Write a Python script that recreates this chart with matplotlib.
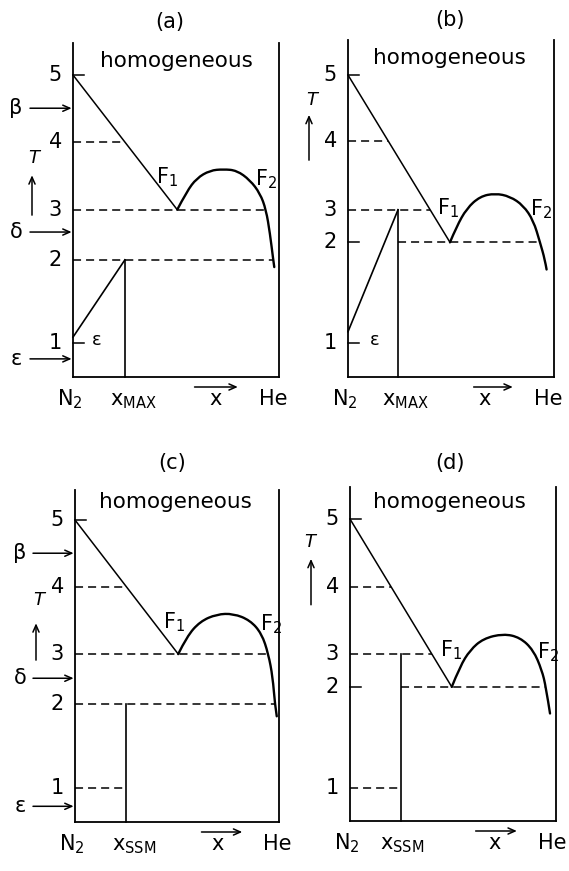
import numpy as np
import matplotlib
matplotlib.use("Agg")
import matplotlib.pyplot as plt
from matplotlib import transforms
from matplotlib.path import Path
from matplotlib.patches import PathPatch

plt.rcParams['font.family'] = ['DejaVu Sans']
plt.rcParams['mathtext.default'] = 'regular'
plt.rcParams['lines.scale_dashes'] = False

# ---------------- data (schematic T-x phase diagrams, N2-He) ----------------
panel_names = ['(a)', '(b)', '(c)', '(d)']
level_labels = ['1', '2', '3', '4', '5']

levels_a = [0.56, 1.94, 2.77, 3.89, 5.0]
levels_b = [0.57, 2.23, 2.77, 3.91, 5.0]
levels_c = [0.56, 1.95, 2.78, 3.89, 5.0]
levels_d = [0.55, 2.22, 2.76, 3.87, 5.0]

# fluid-fluid dome starting at F1 (first point) and ending past F2
dome_a_x = [0.506, 0.552, 0.600, 0.665, 0.730, 0.795, 0.859, 0.908, 0.937, 0.956, 0.972, 0.977]
dome_a_T = [2.77, 3.07, 3.29, 3.42, 3.44, 3.42, 3.26, 3.04, 2.77, 2.38, 1.94, 1.82]
dome_b_x = [0.495, 0.527, 0.576, 0.641, 0.714, 0.786, 0.851, 0.900, 0.932, 0.956, 0.964]
dome_b_T = [2.23, 2.49, 2.79, 2.99, 3.04, 2.99, 2.84, 2.59, 2.23, 1.94, 1.78]
dome_c_x = [0.506, 0.548, 0.613, 0.695, 0.776, 0.858, 0.915, 0.948, 0.969, 0.980, 0.989]
dome_c_T = [2.78, 3.07, 3.32, 3.44, 3.45, 3.34, 3.12, 2.78, 2.40, 1.95, 1.75]
dome_d_x = [0.494, 0.534, 0.583, 0.647, 0.744, 0.825, 0.890, 0.931, 0.951, 0.971]
dome_d_T = [2.22, 2.56, 2.83, 3.02, 3.10, 3.04, 2.83, 2.50, 2.22, 1.78]

# epsilon solid-solution boundary (panels a, b)
eps_a_x = [0.0, 0.252]
eps_a_T = [0.66, 1.94]
eps_b_x = [0.0, 0.243]
eps_b_T = [0.75, 2.77]

# composition marker line (x_MAX or x_SSM) and its top temperature
mark_x = [0.252, 0.243, 0.250, 0.248]
mark_top = [1.94, 2.77, 1.95, 2.76]
mark_labels = [r'x$_{\mathrm{MAX}}$', r'x$_{\mathrm{MAX}}$', r'x$_{\mathrm{SSM}}$', r'x$_{\mathrm{SSM}}$']

# solid-phase transition arrows on the left (panels a, c)
phase_names = ['β', 'δ', 'ε']
phase_T_a = [4.45, 2.40, 0.30]
phase_T_c = [4.45, 2.38, 0.26]

# dashed isotherms: (level index, start, end)
dashed_a = [(3, 'axis', 'diag'), (2, 'axis', 'dome'), (1, 'axis', 'dome')]
dashed_b = [(3, 'axis', 'diag'), (2, 'axis', 'diag'), (1, 'mark', 'dome')]
dashed_c = [(3, 'axis', 'diag'), (2, 'axis', 'dome'), (1, 'axis', 'dome'), (0, 'axis', 'mark')]
dashed_d = [(3, 'axis', 'diag'), (2, 'axis', 'diag'), (1, 'mark', 'dome'), (0, 'axis', 'mark')]
# short solid ticks on the T axis (level index)
ticks_a = [4, 0]
ticks_b = [4, 1, 0]
ticks_c = [4]
ticks_d = [4, 1]

panels = [
    dict(levels=levels_a, dome=(dome_a_x, dome_a_T), eps=(eps_a_x, eps_a_T), dashed=dashed_a,
         ticks=ticks_a, phases=phase_T_a),
    dict(levels=levels_b, dome=(dome_b_x, dome_b_T), eps=(eps_b_x, eps_b_T), dashed=dashed_b,
         ticks=ticks_b, phases=None),
    dict(levels=levels_c, dome=(dome_c_x, dome_c_T), eps=None, dashed=dashed_c,
         ticks=ticks_c, phases=phase_T_c),
    dict(levels=levels_d, dome=(dome_d_x, dome_d_T), eps=None, dashed=dashed_d,
         ticks=ticks_d, phases=None),
]

# ---------------- layout (pixels) ----------------
W, H = 569, 871
PX_PER_T = 60.4
boxes = [(73, 43, 279, 377), (348, 40, 554, 377), (75, 490, 279, 822), (350, 487, 556, 821)]
title_x = [0.47, 0.495, 0.475, 0.485]
title_dy = [21, 20, 27, 24]
homog = [(0.50, 5.13), (0.49, 5.18), (0.49, 5.20), (0.485, 5.18)]
F1_pos = [(0.405, 3.21), (0.432, 2.70), (0.431, 3.21), (0.437, 2.72)]
F2_pos = [(0.883, 3.18), (0.883, 2.68), (0.907, 3.18), (0.908, 2.70)]
eps_lab = [(0.116, 0.62), (0.13, 0.62), None, None]
T_lab = [(-39, 3.63), (-36, 4.59), (-36, 3.68), (-40, 4.62)]
T_arrow = [(-41, 2.68, 3.34), (-39, 3.59, 4.34), (-39, 2.68, 3.29), (-39, 3.58, 4.34)]
phase_arrow_start = [-43, None, -42, None]
phase_lab_dx = [-57, None, -55, None]
mark_lab_x = [0.18, 0.164, 0.18, 0.146]
x_lab_x = [0.69, 0.665, 0.70, 0.70]
x_arrow = [(0.59, 0.80), (0.61, 0.80), (0.62, 0.82), (0.61, 0.81)]
He_x = [0.97, 0.97, 0.99, 0.98]

FS = 15
fig = plt.figure(figsize=(W / 100, H / 100), dpi=100)
fig.patch.set_facecolor('white')
DASH = (0, (5.8, 3.6))
ARROW = '->,head_length=0.5,head_width=0.22'


def right_branch_x(xs, Ts, T):
    i = int(np.argmax(Ts))
    xr = np.array(xs[i:])[::-1]
    Tr = np.array(Ts[i:])[::-1]
    return float(np.interp(T, Tr, xr))


def smooth_path(xs, Ts):
    """Quadratic Bezier path through midpoints, using read points as controls."""
    pts = np.column_stack([xs, Ts])
    verts = [pts[0]]
    codes = [Path.MOVETO]
    n = len(pts)
    for i in range(1, n - 1):
        end = pts[n - 1] if i == n - 2 else (pts[i] + pts[i + 1]) / 2
        verts += [pts[i], end]
        codes += [Path.CURVE3, Path.CURVE3]
    return Path(verts, codes)


for k, p in enumerate(panels):
    l, t, r, b = boxes[k]
    ax = fig.add_axes([l / W, 1 - b / H, (r - l) / W, (b - t) / H])
    ax.set_xlim(0, 1)
    ax.set_ylim(0, (b - t) / PX_PER_T)
    ax.set_xticks([])
    ax.set_yticks([])
    ax.spines['top'].set_visible(False)
    for s in ['left', 'right', 'bottom']:
        ax.spines[s].set_linewidth(1.3)
    ax.patch.set_alpha(0)

    lev = p['levels']
    dx, dT = p['dome']
    xF1, TF1 = dx[0], dT[0]
    T5 = lev[4]

    def diag_x(T):
        return xF1 * (T5 - T) / (T5 - TF1)

    # liquidus line from pure N2 melting point to F1
    ax.plot([0, xF1], [T5, TF1], color='black', lw=1.1, clip_on=False)
    # dome
    ax.add_patch(PathPatch(smooth_path(dx, dT), fill=False, edgecolor='black', lw=1.7,
                           clip_on=False, capstyle='round', joinstyle='round'))
    # epsilon boundary
    if p['eps'] is not None:
        ex, eT = p['eps']
        ax.plot(ex, eT, color='black', lw=1.2, clip_on=False)
    # marker vertical line
    ax.plot([mark_x[k], mark_x[k]], [0, mark_top[k]], color='black', lw=1.2, clip_on=False)

    # dashed isotherms
    for (li, s0, s1) in p['dashed']:
        T = lev[li]
        x0 = mark_x[k] if s0 == 'mark' else 0.0
        if s1 == 'diag':
            x1 = diag_x(T)
        elif s1 == 'dome':
            x1 = right_branch_x(dx, dT, T)
        else:
            x1 = mark_x[k]
        ax.plot([x0, x1], [T, T], color='black', lw=1.1, linestyle=DASH, clip_on=False)
    # short ticks
    for li in p['ticks']:
        ax.plot([0, 0.055], [lev[li], lev[li]], color='black', lw=1.1, clip_on=False)

    # level labels
    for li, lab in enumerate(level_labels):
        ax.annotate(lab, xy=(0, lev[li]), xytext=(-11, 0), textcoords='offset pixels',
                    ha='right', va='center', fontsize=FS)

    # title
    ax.annotate(panel_names[k], xy=(title_x[k], 1), xycoords='axes fraction',
                xytext=(0, title_dy[k]), textcoords='offset pixels',
                ha='center', va='center', fontsize=FS)
    # homogeneous
    ax.text(homog[k][0], homog[k][1], 'homogeneous', ha='center', va='baseline', fontsize=15.5)
    # F1, F2
    ax.text(F1_pos[k][0], F1_pos[k][1], r'F$_1$', ha='left', va='baseline', fontsize=FS)
    ax.text(F2_pos[k][0], F2_pos[k][1], r'F$_2$', ha='left', va='baseline', fontsize=FS)
    if eps_lab[k] is not None:
        ax.text(eps_lab[k][0], eps_lab[k][1], 'ε', ha='center', va='center', fontsize=13)

    # T label and arrow
    ax.annotate('T', xy=(0, T_lab[k][1]), xytext=(T_lab[k][0], 0), textcoords='offset pixels',
                ha='center', va='center', fontsize=13, style='italic')
    off = transforms.ScaledTranslation(T_arrow[k][0] / 100, 0, fig.dpi_scale_trans)
    tr = ax.transData + off
    ax.annotate('', xy=(0, T_arrow[k][2]), xycoords=tr, xytext=(0, T_arrow[k][1]), textcoords=tr,
                arrowprops=dict(arrowstyle=ARROW, lw=1.1, color='black', shrinkA=0, shrinkB=0),
                annotation_clip=False)

    # solid phase arrows
    if p['phases'] is not None:
        for name, T in zip(phase_names, p['phases']):
            ax.annotate('', xy=(0, T), xytext=(phase_arrow_start[k], 0), textcoords='offset pixels',
                        arrowprops=dict(arrowstyle=ARROW, lw=1.1, color='black',
                                        shrinkA=0, shrinkB=1),
                        annotation_clip=False)
            ax.annotate(name, xy=(0, T), xytext=(phase_lab_dx[k], 0), textcoords='offset pixels',
                        ha='center', va='center', fontsize=FS)

    # bottom labels
    xtr = ax.get_xaxis_transform()
    ax.annotate(r'N$_2$', xy=(0.0, 0), xycoords=xtr, xytext=(-3, -28), textcoords='offset pixels',
                ha='center', va='baseline', fontsize=FS)
    ax.annotate(mark_labels[k], xy=(mark_lab_x[k], 0), xycoords=xtr, xytext=(0, -28),
                textcoords='offset pixels', ha='left', va='baseline', fontsize=FS)
    ax.annotate('x', xy=(x_lab_x[k], 0), xycoords=xtr, xytext=(0, -28),
                textcoords='offset pixels', ha='center', va='baseline', fontsize=FS)
    ax.annotate('He', xy=(He_x[k], 0), xycoords=xtr, xytext=(0, -28),
                textcoords='offset pixels', ha='center', va='baseline', fontsize=FS)
    offb = transforms.ScaledTranslation(0, -10 / 100, fig.dpi_scale_trans)
    trb = xtr + offb
    ax.annotate('', xy=(x_arrow[k][1], 0), xycoords=trb, xytext=(x_arrow[k][0], 0), textcoords=trb,
                arrowprops=dict(arrowstyle=ARROW, lw=1.1, color='black', shrinkA=0, shrinkB=0),
                annotation_clip=False)

fig.savefig('out.png', dpi=100, facecolor='white')
